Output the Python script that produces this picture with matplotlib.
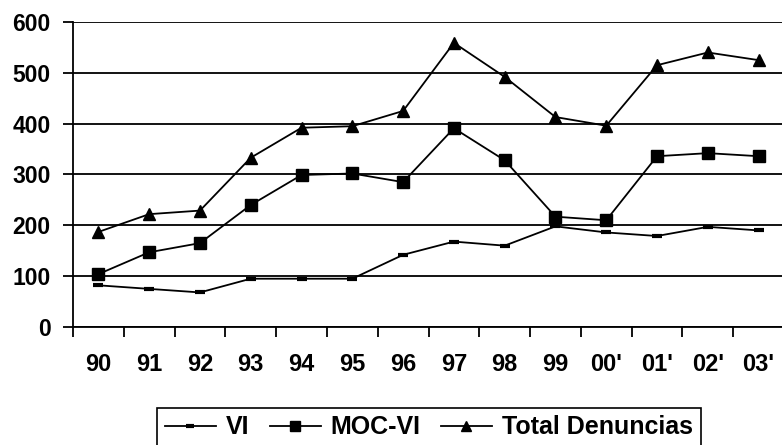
import matplotlib.pyplot as plt
import numpy as np

years = ["90", "91", "92", "93", "94", "95", "96", "97", "98", "99", "00'", "01'", "02'", "03'"]
vi = [82, 75, 68, 95, 95, 95, 142, 168, 160, 198, 186, 179, 197, 190]
moc_vi = [104, 147, 165, 240, 299, 302, 285, 391, 328, 217, 210, 336, 342, 336]
total = [187, 222, 229, 333, 392, 395, 425, 559, 492, 413, 396, 515, 540, 525]

plt.rcParams["font.family"] = ["Liberation Sans", "DejaVu Sans"]
plt.rcParams["font.weight"] = "bold"

fig = plt.figure(figsize=(7.82, 4.45), dpi=100)
ax = fig.add_axes([73 / 782, 1 - 327 / 445, 711 / 782, 305 / 445])

x = np.arange(len(years))
ax.plot(x, vi, color="black", lw=1.3, marker="_", ms=7, mew=3, label="VI")
ax.plot(x, moc_vi, color="black", lw=1.3, marker="s", ms=8, label="MOC-VI")
ax.plot(x, total, color="black", lw=1.3, marker="^", ms=9, label="Total Denuncias")

ax.set_ylim(0, 600)
ax.set_yticks(range(0, 601, 100))
ax.set_xlim(-0.5, len(years) - 0.5)
ax.set_xticks(x)
ax.set_xticklabels(years)
ax.set_xticks(np.arange(-0.5, len(years), 1), minor=True)
ax.tick_params(axis="x", which="major", length=0, pad=19, labelsize=17)
ax.tick_params(axis="x", which="minor", length=7, width=1.3, direction="out")
ax.tick_params(axis="y", length=7, width=1.3, direction="out", pad=9, labelsize=16.5)
for lbl in ax.get_xticklabels() + ax.get_yticklabels():
    lbl.set_fontweight("bold")

ax.grid(axis="y", color="black", lw=1.3)
ax.set_axisbelow(True)
for side in ["top", "right"]:
    ax.spines[side].set_visible(False)
for side in ["left", "bottom"]:
    ax.spines[side].set_linewidth(1.3)

leg = fig.legend(loc="upper center", bbox_to_anchor=(429 / 782, 1 - 408 / 445), ncol=3,
                 fancybox=False, edgecolor="black", framealpha=1, handlelength=2.05,
                 columnspacing=0.8, handletextpad=0.4, borderpad=0.3,
                 borderaxespad=0, markerscale=0.85, prop={"weight": "bold", "size": 18})
leg.get_frame().set_linewidth(1.2)

fig.savefig("out.png", dpi=100)
